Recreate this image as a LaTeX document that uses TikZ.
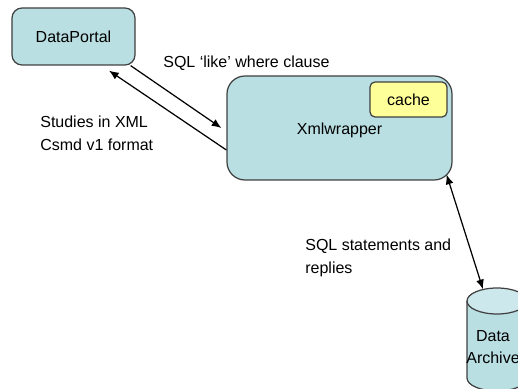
\documentclass[tikz,border=0pt]{standalone}
\usepackage{fontspec}
\setmainfont{Liberation Sans}
\usetikzlibrary{arrows.meta}
\definecolor{boxblue}{RGB}{185,223,227}
\definecolor{topblue}{RGB}{205,232,236}
\definecolor{cacheyellow}{RGB}{255,255,153}
\tikzset{
	box/.style={draw=black!75, line width=.7pt, align=center, inner sep=0pt},
	lbl/.style={anchor=west, align=left, inner sep=0pt},
	conn/.style={line width=.7pt, >={Latex[length=5.5pt,width=4.5pt]}}
}

\begin{document}
\begin{tikzpicture}[font=\fontsize{9.1}{12.9}\selectfont]
	\useasboundingbox (0,0) rectangle (10.36,7.76);
	
	\node (portal) at (1.47,7.03) [box, fill=boxblue, rounded corners=.2cm, minimum width=2.46cm, minimum height=1.14cm] {DataPortal};
	\node (wrapper) at (6.79,5.2) [box, fill=boxblue, rounded corners=.36cm, minimum width=4.5cm, minimum height=2.08cm, text height=.31cm] {Xmlwrapper};
	\node (cache) at (8.17,5.77) [box, fill=cacheyellow, rounded corners=.1cm, minimum width=1.54cm, minimum height=.7cm] {cache};
	
	\draw[box, fill=boxblue] (9.34,1.74) -- (9.34,.2) arc[start angle=180, end angle=360, x radius=.6, y radius=.26] -- (10.54,1.74);
	\draw[box, fill=topblue] (9.94,1.74) ellipse [x radius=.6, y radius=.26];
	\node (archive) at (9.86,.82) [align=center, inner sep=0pt] {Data\\Archive};
	
	\draw[conn,->] ([xshift=-.1cm]portal.south east) -- ([xshift=-.1cm]wrapper.west);
	\draw[conn,->] ([yshift=-.44cm]wrapper.west) -- ([xshift=.71cm,yshift=-.1cm]portal.south);
	\draw[conn,<->] ([xshift=-.12cm,yshift=.12cm]wrapper.south east) -- ([xshift=-.2cm,yshift=.81cm]archive.north);
	
	\node (likelbl) at (3.26,6.5) [lbl] {SQL `like' where clause};
	\node (studieslbl) at (.8,5.1) [lbl] {Studies in XML\\Csmd v1 format};
	\node (sqllbl) at (6.1,2.6) [lbl] {SQL statements and\\replies};
\end{tikzpicture}
\end{document}
